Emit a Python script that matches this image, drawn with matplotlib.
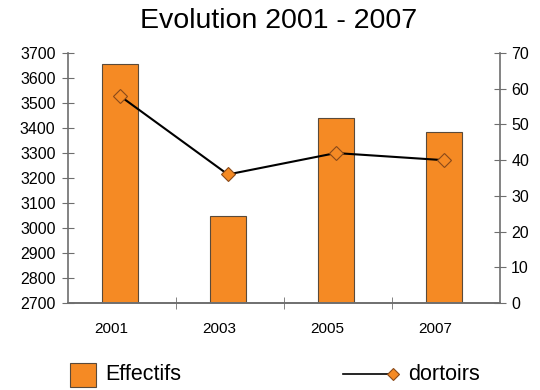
import matplotlib.pyplot as plt
import matplotlib.transforms as mtransforms
import numpy as np
from matplotlib.lines import Line2D
from matplotlib.patches import Rectangle

plt.rcParams['font.family'] = ['Liberation Sans', 'DejaVu Sans']

years = ['2001', '2003', '2005', '2007']
effectifs = [3655, 3048, 3440, 3385]
dortoirs = [58, 36, 42, 40]

orange = '#f58a24'
grey = '#6e6e6e'
edge = '#5a4a3a'

fig = plt.figure(figsize=(5.4, 3.9), dpi=100)
ax = fig.add_axes([0.126, 0.223, 0.8, 0.641])
ax2 = ax.twinx()

x = np.arange(len(years))
ax.bar(x, effectifs, width=0.34, color=orange, edgecolor=edge, linewidth=0.8)
ax.set_ylim(2700, 3700)
ax.set_yticks(range(2700, 3701, 100))
ax.set_xlim(-0.48, 3.52)
ax.set_xticks(x)
ax.set_xticklabels(years)
ax.set_xticks([0.52, 1.52, 2.52], minor=True)
ax.tick_params(axis='x', which='major', length=0, pad=14, labelsize=11)
ax.tick_params(axis='x', which='minor', direction='inout', length=8, color=grey)
ax.tick_params(axis='y', direction='inout', length=8, color=grey, labelsize=11.5, pad=5)
# shift the year labels a little to the left like the original
shift = mtransforms.ScaledTranslation(-6 / 72, 0, fig.dpi_scale_trans)
for lab in ax.get_xticklabels():
    lab.set_transform(lab.get_transform() + shift)

ax2.plot(x, dortoirs, color='black', linewidth=1.5, marker='D', markersize=7,
         markerfacecolor=orange, markeredgecolor='#8a4a1a', markeredgewidth=0.8)
ax2.set_ylim(0, 70)
ax2.set_yticks(range(0, 71, 10))
ax2.tick_params(axis='y', direction='inout', length=8, color=grey, labelsize=11.5, pad=4)

for a in (ax, ax2):
    a.spines['top'].set_visible(False)
    for s in ('left', 'right', 'bottom'):
        a.spines[s].set_color(grey)
        a.spines[s].set_linewidth(1.2)
ax.spines['right'].set_visible(False)
ax2.spines['left'].set_visible(False)

fig.text(0.515, 0.945, 'Evolution 2001 - 2007', ha='center', va='center', fontsize=20.5)

# legend drawn by hand (marker sits at the end of the line)
ly = 1 - 374 / 390
fig.patches.append(Rectangle((70 / 540, 1 - 387 / 390), 26 / 540, 24 / 390,
                             transform=fig.transFigure, facecolor=orange,
                             edgecolor=edge, linewidth=0.8))
fig.text(105 / 540, ly, 'Effectifs', ha='left', va='center', fontsize=15.5)
fig.lines.append(Line2D([343 / 540, 393 / 540], [ly, ly], transform=fig.transFigure,
                        color='black', linewidth=1.2))
fig.lines.append(Line2D([393 / 540], [ly], transform=fig.transFigure, marker='D',
                        markersize=6.5, markerfacecolor=orange,
                        markeredgecolor='#8a4a1a', markeredgewidth=0.8))
fig.text(408 / 540, ly, 'dortoirs', ha='left', va='center', fontsize=15.5)

fig.savefig('out.png', dpi=100)
